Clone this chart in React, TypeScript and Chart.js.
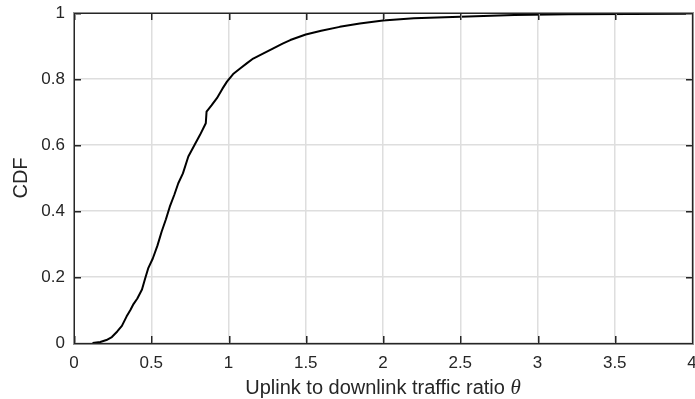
import React, { useEffect, useRef } from "react";
import { Chart, registerables } from "chart.js";

Chart.register(...registerables);

// Empirical CDF of the uplink/downlink traffic ratio
const ratioValues = [
  0.12, 0.17, 0.21, 0.245, 0.28, 0.31, 0.34, 0.365, 0.385, 0.41, 0.44, 0.46,
  0.48, 0.51, 0.54, 0.567, 0.595, 0.62, 0.65, 0.675, 0.705, 0.74, 0.78, 0.815,
  0.853, 0.858, 0.89, 0.925, 0.96, 0.99, 1.03, 1.075, 1.12, 1.16, 1.22, 1.29,
  1.35, 1.4, 1.5, 1.6, 1.72, 1.85, 2.0, 2.2, 2.4, 2.6, 2.85, 3.2, 3.6, 4.0,
];
const cdfValues = [
  0, 0.003, 0.009, 0.018, 0.035, 0.052, 0.08, 0.1, 0.118, 0.135, 0.162, 0.195,
  0.226, 0.256, 0.295, 0.337, 0.375, 0.413, 0.45, 0.484, 0.514, 0.565, 0.6,
  0.63, 0.666, 0.701, 0.72, 0.742, 0.77, 0.792, 0.815, 0.832, 0.848, 0.862,
  0.876, 0.893, 0.907, 0.918, 0.935, 0.946, 0.958, 0.968, 0.977, 0.984, 0.987,
  0.99, 0.994, 0.996, 0.997, 0.998,
];

const xTicks = [0, 0.5, 1, 1.5, 2, 2.5, 3, 3.5, 4];
const yTicks = [0, 0.2, 0.4, 0.6, 0.8, 1];

const xTitle = "Uplink to downlink traffic ratio ";
const xTitleSymbol = "\u03b8";
const yTitle = "CDF";

const FONT = '"Liberation Sans", Arial, Helvetica, sans-serif';
const AXIS_COLOR = "#262626";
const AXIS_EDGE = "#8f8f8f";
const GRID_COLOR = "#dedede";
const TICK_LEN = 7;

// Box, inward ticks on all four sides, and axis titles
const framePlugin = {
  id: "frame",
  afterDraw(chart: any) {
    const ctx = chart.ctx;
    const a = chart.chartArea;
    const xs = chart.scales.x;
    const ys = chart.scales.y;
    const L = Math.round(a.left);
    const R = Math.round(a.right);
    const T = Math.round(a.top);
    const B = Math.round(a.bottom);
    ctx.save();

    // soft outer edge of the frame
    ctx.fillStyle = AXIS_EDGE;
    ctx.fillRect(L - 1, T - 1, R - L + 3, 1);
    ctx.fillRect(L - 1, B + 1, R - L + 3, 1);
    ctx.fillRect(L - 1, T - 1, 1, B - T + 3);
    ctx.fillRect(R + 1, T - 1, 1, B - T + 3);
    // soft side of the inward ticks
    xTicks.forEach((v) => {
      const px = Math.round(xs.getPixelForValue(v));
      ctx.fillRect(px + 1, B - TICK_LEN, 1, TICK_LEN);
      ctx.fillRect(px + 1, T, 1, TICK_LEN);
    });
    yTicks.forEach((v) => {
      const py = Math.round(ys.getPixelForValue(v));
      ctx.fillRect(L, py + 1, TICK_LEN, 1);
      ctx.fillRect(R - TICK_LEN + 1, py + 1, TICK_LEN, 1);
    });

    // frame and ticks
    ctx.fillStyle = AXIS_COLOR;
    ctx.fillRect(L, T, R - L + 1, 1);
    ctx.fillRect(L, B, R - L + 1, 1);
    ctx.fillRect(L, T, 1, B - T + 1);
    ctx.fillRect(R, T, 1, B - T + 1);
    xTicks.forEach((v) => {
      const px = Math.round(xs.getPixelForValue(v));
      ctx.fillRect(px, B - TICK_LEN, 1, TICK_LEN);
      ctx.fillRect(px, T, 1, TICK_LEN);
    });
    yTicks.forEach((v) => {
      const py = Math.round(ys.getPixelForValue(v));
      ctx.fillRect(L, py, TICK_LEN, 1);
      ctx.fillRect(R - TICK_LEN + 1, py, TICK_LEN, 1);
    });

    // x-axis title: plain text followed by an italic symbol
    ctx.textBaseline = "alphabetic";
    ctx.textAlign = "left";
    const mainFont = `20px ${FONT}`;
    const symFont = `italic 21px "Liberation Serif", "DejaVu Serif", serif`;
    ctx.font = mainFont;
    const w1 = ctx.measureText(xTitle).width;
    ctx.font = symFont;
    const w2 = ctx.measureText(xTitleSymbol).width;
    const cx = (a.left + a.right) / 2;
    const sx = cx - (w1 + w2) / 2;
    ctx.font = mainFont;
    ctx.fillText(xTitle, sx, 394);
    ctx.font = symFont;
    ctx.fillText(xTitleSymbol, sx + w1, 394);

    // y-axis title, rotated
    ctx.translate(27, (a.top + a.bottom) / 2);
    ctx.rotate(-Math.PI / 2);
    ctx.font = mainFont;
    ctx.textAlign = "center";
    ctx.fillText(yTitle, 0, 0);

    ctx.restore();
  },
};

export default function App() {
  const canvasRef = useRef<HTMLCanvasElement | null>(null);

  useEffect(() => {
    const canvas = canvasRef.current;
    if (!canvas) return;
    const points = ratioValues.map((x, i) => ({ x, y: cdfValues[i] }));
    const chart = new Chart(canvas, {
      type: "line",
      data: {
        datasets: [
          {
            data: points,
            borderColor: "#000000",
            borderWidth: 2,
            pointRadius: 0,
            tension: 0,
            fill: false,
            borderJoinStyle: "round",
          },
        ],
      },
      options: {
        animation: false,
        responsive: false,
        devicePixelRatio: 1,
        layout: { padding: { left: 0, right: 3, top: 13, bottom: 0 } },
        plugins: {
          legend: { display: false },
          tooltip: { enabled: false },
        },
        scales: {
          x: {
            type: "linear",
            min: 0,
            max: 4,
            afterBuildTicks(scale: any) {
              scale.ticks = xTicks.map((v) => ({ value: v }));
            },
            ticks: {
              autoSkip: false,
              maxRotation: 0,
              padding: 10,
              color: AXIS_COLOR,
              font: { family: FONT, size: 17 },
              callback: (v: any) => String(Math.round(Number(v) * 10) / 10),
            },
            grid: { color: GRID_COLOR, lineWidth: 1.5, drawTicks: false },
            border: { display: false },
            afterFit(scale: any) {
              scale.height = 56;
              scale.paddingLeft = 0;
              scale.paddingRight = 0;
            },
          },
          y: {
            type: "linear",
            min: 0,
            max: 1,
            afterBuildTicks(scale: any) {
              scale.ticks = yTicks.map((v) => ({ value: v }));
            },
            ticks: {
              autoSkip: false,
              padding: 9,
              color: AXIS_COLOR,
              font: { family: FONT, size: 17 },
              callback: (v: any) => String(Math.round(Number(v) * 10) / 10),
            },
            grid: { color: GRID_COLOR, lineWidth: 1.5, drawTicks: false },
            border: { display: false },
            afterFit(scale: any) {
              scale.width = 74;
              scale.paddingTop = 0;
              scale.paddingBottom = 0;
            },
          },
        },
      },
      plugins: [framePlugin],
    } as any);
    return () => chart.destroy();
  }, []);

  return (
    <div
      style={{
        position: "fixed",
        left: 0,
        top: 0,
        width: 695,
        height: 399,
        background: "#ffffff",
      }}
    >
      <canvas ref={canvasRef} width={695} height={399} />
    </div>
  );
}
